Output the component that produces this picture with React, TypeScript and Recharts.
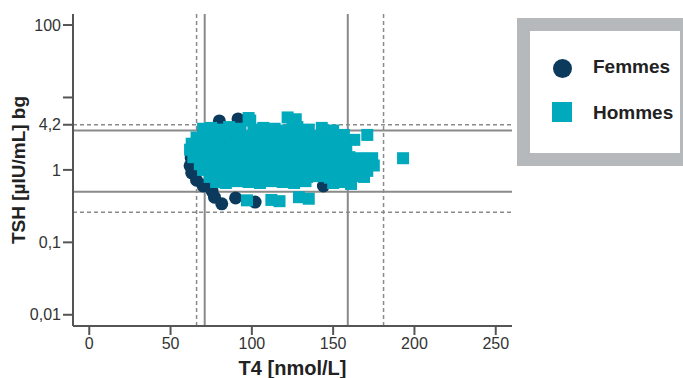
import React from "react"
import {
  ScatterChart,
  Scatter,
  XAxis,
  YAxis,
  ReferenceLine,
} from "recharts"

// [T4 nmol/L, TSH µIU/mL]
const femmesPoints: [number, number][] = [
  [62.7, 1.46], [62, 1.14], [63, 0.91], [66, 0.72], [70, 0.6], [71, 0.62],
  [75.5, 0.51], [77, 0.42], [81.5, 0.34], [90, 0.41], [102, 0.36], [80, 4.74],
  [91.5, 5.05], [144, 0.6], [85, 1.5], [100, 2.0], [110, 1.2], [95, 0.9],
  [120, 1.6], [130, 2.2], [140, 1.0], [105, 3.0], [88, 2.5], [115, 0.75],
]

const hommesPoints: [number, number][] = [
  [98, 5.2], [99, 4.8], [122, 5.3], [127, 5.0], [125, 4.6],
  [70, 3.7], [75, 3.8], [80, 3.6], [86, 3.9], [93, 3.7], [101, 3.6], [107, 3.8],
  [114, 3.7], [121, 3.5], [128, 3.9], [135, 3.6], [143, 3.8], [150, 3.5], [156.6, 3.04],
  [163, 2.6], [171, 3.04],
  [66, 2.8], [70, 3.0], [77, 2.9], [84, 2.8], [91, 3.0], [98, 2.9], [105, 2.8],
  [112, 3.0], [119, 2.9], [126, 2.8], [133, 3.0], [140, 2.9], [147, 2.7], [153, 2.9],
  [63, 2.3], [69, 2.2], [76, 2.4], [83, 2.3], [90, 2.2], [97, 2.4], [104, 2.3],
  [111, 2.2], [118, 2.4], [125, 2.3], [132, 2.2], [139, 2.4], [146, 2.3], [152, 2.2], [158, 2.1],
  [62, 1.9], [68, 1.8], [75, 1.85], [82, 1.9], [89, 1.8], [96, 1.85], [103, 1.9],
  [110, 1.8], [117, 1.85], [124, 1.9], [131, 1.8], [138, 1.85], [145, 1.9], [152, 1.8], [158, 1.75],
  [64, 1.5], [69, 1.45], [76, 1.55], [83, 1.5], [90, 1.45], [97, 1.55], [104, 1.5],
  [111, 1.45], [118, 1.55], [125, 1.5], [132, 1.45], [139, 1.55], [146, 1.5], [153, 1.45],
  [160, 1.5], [167, 1.45], [174, 1.45], [193, 1.45],
  [68, 1.2], [72, 1.25], [79, 1.2], [86, 1.15], [93, 1.25], [100, 1.2], [107, 1.15],
  [114, 1.25], [121, 1.2], [128, 1.15], [135, 1.25], [142, 1.2], [149, 1.15], [156, 1.25],
  [163, 1.2], [170, 1.2], [175, 1.15],
  [70, 1.0], [75, 0.95], [81, 1.0], [88, 0.98], [95, 0.95], [102, 1.0], [109, 0.97],
  [116, 0.95], [123, 1.0], [130, 0.98], [137, 0.95], [144, 1.0], [151, 0.97], [158, 0.95],
  [165, 1.0], [171, 0.97],
  [74, 0.8], [78, 0.82], [85, 0.78], [92, 0.8], [99, 0.82], [106, 0.78], [113, 0.8],
  [120, 0.82], [127, 0.78], [134, 0.8], [141, 0.82], [148, 0.78], [155, 0.8], [162, 0.82], [169, 0.8],
  [78, 0.68], [84, 0.66], [91, 0.7], [98, 0.68], [105, 0.66], [112, 0.7], [119, 0.68],
  [126, 0.66], [133, 0.7], [150, 0.66], [157, 0.68], [161, 0.64],
  [97, 0.38], [112, 0.385], [117, 0.37], [129, 0.42], [135, 0.4],
]

const xTicks = [0, 50, 100, 150, 200, 250]
const yTicks = [0.01, 0.1, 1, 4.2, 10, 100]
const solidT4 = [71, 159]
const dashedT4 = [66, 181]
const solidTSH = [3.5, 0.5]
const dashedTSH = [4.2, 0.26]

const NAVY = "#0b3a5c"
const TEAL = "#00a9bc"
const FONT = "'Liberation Sans', Arial, sans-serif"

const femmes = femmesPoints.map(([x, y]) => ({ x, y }))
const hommes = hommesPoints.map(([x, y]) => ({ x, y }))

const fmtY = (v: number) => (v === 10 ? "" : String(v).replace(".", ","))

export default function App() {
  return (
    <div style={{ position: "absolute", left: 0, top: 0, width: 683, height: 378, overflow: "hidden", background: "#fff", fontFamily: FONT }}>
      <ScatterChart width={683} height={378} margin={{ top: 14, right: 171, bottom: 0, left: 0 }}>
        <XAxis
          dataKey="x"
          type="number"
          domain={[-10, 260]}
          ticks={xTicks}
          allowDataOverflow
          height={52}
          stroke="#555"
          strokeWidth={2}
          tickSize={9}
          tickMargin={3}
          tick={{ fill: "#333", fontSize: 16, fontFamily: FONT }}
          label={{ value: "T4 [nmol/L]", position: "center", dy: 16, style: { fill: "#222", fontSize: 20, fontWeight: 700, fontFamily: FONT } }}
        />
        <YAxis
          dataKey="y"
          type="number"
          scale="log"
          domain={[0.007, 142]}
          ticks={yTicks}
          allowDataOverflow
          width={73}
          stroke="#555"
          strokeWidth={2}
          tickSize={10}
          tickMargin={2}
          tickFormatter={fmtY}
          tick={{ fill: "#333", fontSize: 16, fontFamily: FONT }}
          label={{ value: "TSH [µIU/mL] bg", angle: -90, position: "center", dx: -18, style: { fill: "#222", fontSize: 19, fontWeight: 700, fontFamily: FONT } }}
        />
        <Scatter
          name="Femmes"
          data={femmes}
          isAnimationActive={false}
          shape={(p: any) => <circle cx={p.cx} cy={p.cy} r={6.5} fill={NAVY} />}
        />
        <Scatter
          name="Hommes"
          data={hommes}
          isAnimationActive={false}
          shape={(p: any) => <rect x={p.cx - 6} y={p.cy - 6} width={12} height={12} fill={TEAL} />}
        />
        {solidT4.map((v) => (
          <ReferenceLine key={`st${v}`} x={v} stroke="#8a8a8a" strokeWidth={2} />
        ))}
        {dashedT4.map((v) => (
          <ReferenceLine key={`dt${v}`} x={v} stroke="#8a8a8a" strokeWidth={1.5} strokeDasharray="4 3" />
        ))}
        {solidTSH.map((v) => (
          <ReferenceLine key={`sh${v}`} y={v} stroke="#8a8a8a" strokeWidth={2} />
        ))}
        {dashedTSH.map((v) => (
          <ReferenceLine key={`dh${v}`} y={v} stroke="#8a8a8a" strokeWidth={1.5} strokeDasharray="4 3" />
        ))}
      </ScatterChart>

      {/* legend box */}
      <div style={{ position: "absolute", left: 517, top: 18, width: 176, height: 148, boxSizing: "border-box", border: "13px solid #b6b9bc", background: "#fff" }} />
      <div style={{ position: "absolute", left: 552.5, top: 58.5, width: 19, height: 19, borderRadius: "50%", background: NAVY }} />
      <div style={{ position: "absolute", left: 552, top: 102, width: 20, height: 20, background: TEAL }} />
      <div style={{ position: "absolute", left: 593, top: 56, fontSize: 19, fontWeight: 700, color: "#222", lineHeight: "22px" }}>Femmes</div>
      <div style={{ position: "absolute", left: 593, top: 102, fontSize: 19, fontWeight: 700, color: "#222", lineHeight: "22px" }}>Hommes</div>
    </div>
  )
}
